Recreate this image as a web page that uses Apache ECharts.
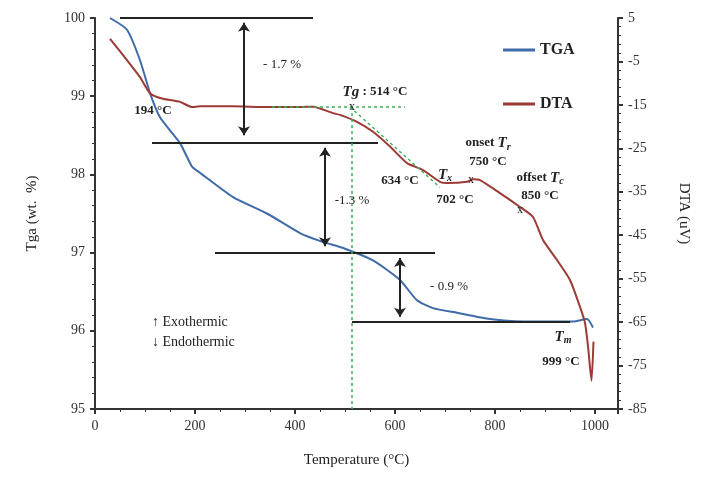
<!DOCTYPE html>
<html>
<head>
<meta charset="utf-8">
<script src="https://cdn.jsdelivr.net/npm/echarts@6/dist/echarts.min.js"></script>
<style>
    html, body { margin: 0; padding: 0; background: #fff; }
    #chart { width: 707px; height: 484px; }
</style>
</head>
<body>
<div id="chart"></div>
<script>
// TGA curve (temperature, wt %)
var tgaTemp = [30, 64, 90, 110, 130, 170, 194, 210, 276, 344, 410, 454, 500, 556, 610, 644, 676, 724, 790, 856, 956, 984, 996];
var tgaWt = [100, 99.85, 99.46, 99.04, 98.73, 98.4, 98.1, 98.02, 97.71, 97.5, 97.25, 97.14, 97.05, 96.9, 96.65, 96.39, 96.29, 96.23, 96.15, 96.12, 96.12, 96.15, 96.04];

// DTA curve (temperature, uV)
var dtaTemp = [30, 64, 90, 110, 136, 170, 194, 210, 276, 344, 410, 436, 476, 490, 524, 556, 590, 624, 656, 690, 704, 744, 756, 770, 810, 850, 876, 896, 924, 950, 970, 980, 986, 993, 997];
var dtaVal = [0.2, -4.7, -8.6, -12.3, -13.6, -14.3, -15.5, -15.3, -15.3, -15.5, -15.5, -15.4, -16.9, -17.3, -18.9, -21.2, -24.6, -28.4, -30.0, -32.7, -33.0, -32.7, -32.1, -32.3, -35.3, -38.5, -40.8, -46.1, -50.7, -55.3, -61.5, -65.2, -70.5, -78.5, -69.5];

// mass loss steps: [x from, x to, wt]
var stepLines = [[50, 436, 100], [114, 566, 98.4], [240, 680, 97.0], [514, 950, 96.11]];
// arrows: [x, wt top, wt bottom]
var arrows = [[298, 99.94, 98.5], [460, 98.34, 97.08], [610, 96.93, 96.18]];
var lossLabels = [['- 1.7 %', 374, 99.41], ['-1.3 %', 514, 97.66], ['- 0.9 %', 708, 96.56]];

// DTA annotations: [text, x, dta]
var dtaLabels = [
    ['194 °C', 116, -16.4],
    ['{i|Tg} : 514 °C', 560, -12.0],
    ['634 °C', 610, -32.5],
    ['{i|T}{s|x}', 700, -31.1],
    ['702 °C', 720, -36.7],
    ['onset {i|T}{s|r}', 786, -23.8],
    ['750 °C', 786, -28.1],
    ['offset {i|T}{s|c}', 890, -31.8],
    ['850 °C', 890, -36.0],
    ['{i|T}{s|m}', 936, -68.4],
    ['999 °C', 932, -74.2]
];
var crossMarks = [[514, -15.5], [752, -32.3], [850, -39.2]];
// Tg construction (green dashed)
var tgLines = [[[354, -15.5], [620, -15.5]], [[510, -15.5], [690, -34]], [[514, -15.5], [514, -85]]];

var serif = 'Liberation Serif';

function pairs(xs, ys) {
    var out = [];
    for (var i = 0; i < xs.length; i++) out.push([xs[i], ys[i]]);
    return out;
}

var tgaMarkLines = [];
stepLines.forEach(function(s) {
    tgaMarkLines.push([{ coord: [s[0], s[2]], symbol: 'none' }, { coord: [s[1], s[2]], symbol: 'none' }]);
});
arrows.forEach(function(a) {
    tgaMarkLines.push([{ coord: [a[0], a[1]], symbol: 'arrow' }, { coord: [a[0], a[2]], symbol: 'arrow' }]);
});

var tgaPoints = lossLabels.map(function(l) {
    return { coord: [l[1], l[2]], label: { formatter: l[0] } };
});
tgaPoints.push({
    coord: [104, 95.98],
    label: { formatter: '↑ Exothermic\n↓ Endothermic', position: 'right', lineHeight: 20, fontWeight: 'normal', fontSize: 14 }
});

var dtaPoints = dtaLabels.map(function(l) {
    return { coord: [l[1], l[2]], label: { formatter: l[0] } };
});
crossMarks.forEach(function(c) {
    dtaPoints.push({ coord: c, label: { formatter: 'x', fontWeight: 'normal', fontSize: 12 } });
});

var richText = {
    i: { fontFamily: serif, fontStyle: 'italic', fontWeight: 'bold', fontSize: 15, color: '#222' },
    s: { fontFamily: serif, fontStyle: 'italic', fontWeight: 'bold', fontSize: 10, color: '#222', verticalAlign: 'bottom', padding: [8, 0, 0, 0] }
};

var chart = echarts.init(document.getElementById('chart'));
var option = {
    animation: false,
    backgroundColor: '#fff',
    textStyle: { fontFamily: serif },
    grid: { left: 95, right: 89, top: 18, bottom: 75 },
    legend: {
        orient: 'vertical',
        left: 498,
        top: 37,
        itemGap: 38,
        itemWidth: 32,
        itemHeight: 3,
        icon: 'rect',
        textStyle: { fontFamily: serif, fontWeight: 'bold', fontSize: 16, color: '#222' },
        data: ['TGA', 'DTA']
    },
    xAxis: {
        type: 'value',
        min: 0,
        max: 1046,
        interval: 200,
        name: 'Temperature (°C)',
        nameLocation: 'middle',
        nameGap: 44,
        nameTextStyle: { fontFamily: serif, fontSize: 15, color: '#222' },
        axisLine: { onZero: false, lineStyle: { color: '#333', width: 2 } },
        axisTick: { length: 5, lineStyle: { color: '#333', width: 2 } },
        minorTick: { show: true, splitNumber: 4, length: 3, lineStyle: { color: '#333' } },
        splitLine: { show: false },
        axisLabel: {
            fontFamily: serif, fontSize: 14, color: '#333', margin: 10,
            formatter: function(v) { return v % 200 === 0 ? v : ''; }
        }
    },
    yAxis: [{
        type: 'value',
        min: 95,
        max: 100,
        interval: 1,
        name: 'Tga (wt.  %)',
        nameLocation: 'middle',
        nameGap: 55,
        nameTextStyle: { fontFamily: serif, fontSize: 15, color: '#222' },
        axisLine: { show: true, onZero: false, lineStyle: { color: '#333', width: 2 } },
        axisTick: { show: true, length: 5, lineStyle: { color: '#333', width: 2 } },
        minorTick: { show: true, splitNumber: 5, length: 3, lineStyle: { color: '#333' } },
        splitLine: { show: false },
        axisLabel: { fontFamily: serif, fontSize: 14, color: '#333', margin: 10 }
    }, {
        type: 'value',
        min: -85,
        max: 5,
        interval: 10,
        position: 'right',
        name: 'DTA (uV)',
        nameLocation: 'middle',
        nameRotate: -90,
        nameGap: 58,
        nameTextStyle: { fontFamily: serif, fontSize: 15, color: '#222' },
        axisLine: { show: true, onZero: false, lineStyle: { color: '#333', width: 2 } },
        axisTick: { show: true, length: 5, lineStyle: { color: '#333', width: 2 } },
        minorTick: { show: true, splitNumber: 5, length: 3, lineStyle: { color: '#333' } },
        splitLine: { show: false },
        axisLabel: { fontFamily: serif, fontSize: 14, color: '#333', margin: 10 }
    }],
    series: [{
        name: 'TGA',
        type: 'line',
        yAxisIndex: 0,
        data: pairs(tgaTemp, tgaWt),
        smooth: 0.2,
        showSymbol: false,
        color: '#3f6ba8',
        lineStyle: { width: 2, color: '#3f6ba8' },
        z: 3,
        markLine: {
            silent: true,
            symbolSize: 9,
            label: { show: false },
            lineStyle: { color: '#222', width: 2, type: 'solid' },
            data: tgaMarkLines
        },
        markPoint: {
            symbol: 'circle',
            symbolSize: 0,
            label: { show: true, position: 'inside', fontFamily: serif, fontSize: 13, color: '#222' },
            data: tgaPoints
        }
    }, {
        name: 'DTA',
        type: 'line',
        yAxisIndex: 1,
        data: pairs(dtaTemp, dtaVal),
        smooth: 0.2,
        showSymbol: false,
        color: '#9c3a36',
        lineStyle: { width: 2, color: '#9c3a36' },
        z: 3,
        markLine: {
            silent: true,
            symbol: 'none',
            label: { show: false },
            lineStyle: { color: '#3cb05a', width: 1.5, type: [3, 3] },
            data: tgLines.map(function(l) {
                return [{ coord: l[0] }, { coord: l[1] }];
            })
        },
        markPoint: {
            symbol: 'circle',
            symbolSize: 0,
            label: { show: true, position: 'inside', fontFamily: serif, fontWeight: 'bold', fontSize: 13, color: '#222', rich: richText },
            data: dtaPoints
        }
    }]
};
chart.setOption(option);
</script>
</body>
</html>
